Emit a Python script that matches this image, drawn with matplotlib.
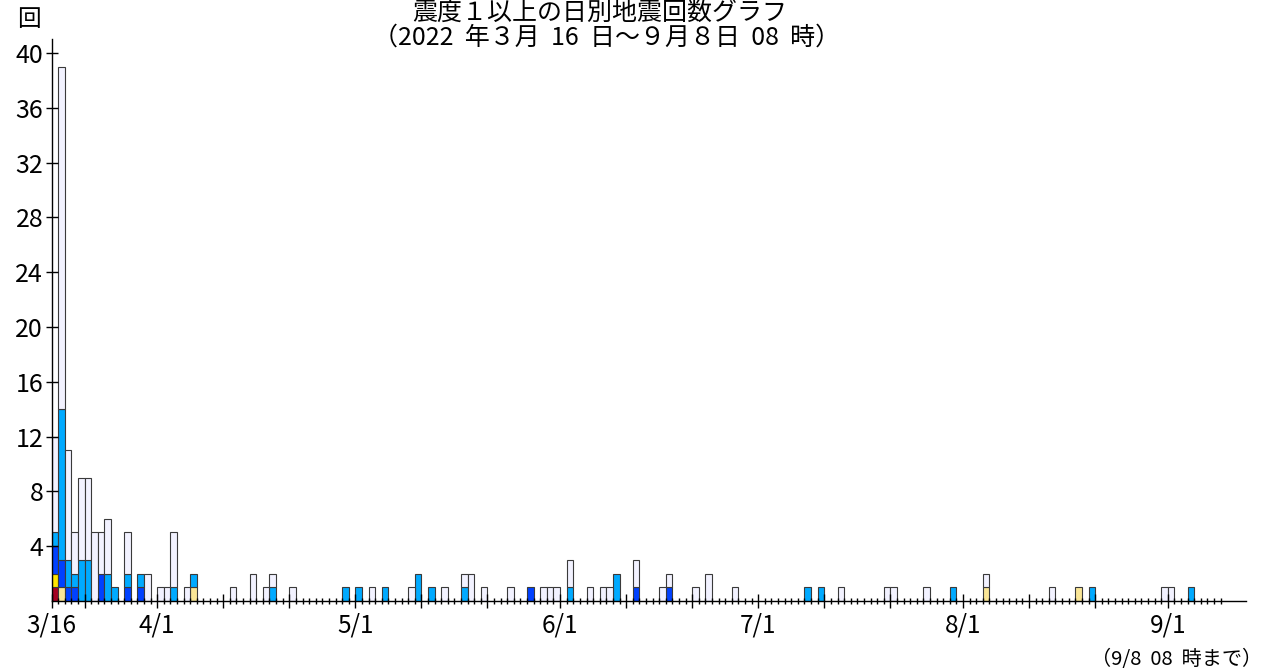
import numpy as np
import pandas as pd
import matplotlib
matplotlib.use("Agg")
import matplotlib.pyplot as plt

plt.rcParams['font.family'] = ['Noto Sans CJK JP', 'DejaVu Sans']

# 日別の震度別回数（月-日: 回数）
shindo6u = {"03-16": 1}
shindo5l = {"03-16": 1}
shindo4 = {"03-17": 1, "04-06": 1, "08-04": 1, "08-18": 1}
shindo3 = {"03-16": 2, "03-17": 2, "03-18": 1, "03-19": 1, "03-23": 2, "03-27": 1,
           "03-29": 1, "05-27": 1, "06-12": 1, "06-17": 1}
shindo2 = {"03-16": 1, "03-17": 11, "03-18": 2, "03-19": 1, "03-20": 3, "03-21": 3,
           "03-24": 2, "03-25": 1, "03-27": 1, "03-29": 1, "04-03": 1, "04-06": 1,
           "04-18": 1, "04-29": 1, "05-01": 1, "05-05": 1, "05-10": 2, "05-12": 1,
           "05-17": 1, "06-02": 1, "06-09": 2, "07-08": 1, "07-10": 1, "07-30": 1,
           "08-20": 1, "09-04": 1}
shindo1 = {"03-16": 7, "03-17": 25, "03-18": 8, "03-19": 3, "03-20": 6, "03-21": 6,
           "03-22": 5, "03-23": 3, "03-24": 4, "03-27": 3, "03-30": 2, "04-01": 1,
           "04-02": 1, "04-03": 4, "04-05": 1, "04-12": 1, "04-15": 2, "04-17": 1,
           "04-18": 1, "04-21": 1, "05-03": 1, "05-09": 1, "05-14": 1, "05-17": 1,
           "05-18": 2, "05-20": 1, "05-24": 1, "05-29": 1, "05-30": 1, "05-31": 1,
           "06-02": 2, "06-05": 1, "06-07": 1, "06-08": 1, "06-12": 2, "06-16": 1,
           "06-17": 1, "06-21": 1, "06-23": 2, "06-27": 1, "07-13": 1, "07-20": 1,
           "07-21": 1, "07-26": 1, "08-04": 1, "08-14": 1, "08-31": 1, "09-01": 1}

# 下から積む順
layers = [shindo6u, shindo5l, shindo4, shindo3, shindo2, shindo1]
colors = ['#A50021', '#FFE600', '#FAE696', '#0041FF', '#00AAFF', '#F2F2FF']

start = pd.Timestamp("2022-03-16")
days = pd.date_range(start, "2022-09-08", freq="D")
yticks = [4, 8, 12, 16, 20, 24, 28, 32, 36, 40]

fig = plt.figure(figsize=(12.69, 6.72), dpi=100)
ax = fig.add_axes([0.0406, 0.1057, 0.9413, 0.8359])

x = np.arange(len(days))
bottom = np.zeros(len(days))
for layer, c in zip(layers, colors):
    vals = np.array([layer.get(d.strftime("%m-%d"), 0) for d in days], dtype=float)
    mask = vals > 0
    ax.bar(x[mask], vals[mask], width=1.0, bottom=bottom[mask], align='edge',
           color=c, edgecolor='#3a3a3a', linewidth=0.8, zorder=1)
    bottom += vals

ax.set_xlim(0, 180.85)
ax.set_ylim(0, 41)

for s in ['top', 'right']:
    ax.spines[s].set_visible(False)
for s in ['left', 'bottom']:
    ax.spines[s].set_linewidth(1.0)
    ax.spines[s].set_color('black')

# 1日・11日・21日に長い目盛、毎日に短い目盛
bounds = pd.date_range(start, days[-1] + pd.Timedelta(days=1), freq="D")
major = [i for i, d in enumerate(bounds) if d.day in (1, 11, 21) or i == 0]
labels = []
for i in major:
    d = bounds[i]
    if i == 0:
        labels.append("3/16")
    elif d.day == 1:
        labels.append(f"{d.month}/1")
    else:
        labels.append("")
ax.set_xticks(major)
ax.set_xticklabels(labels, fontsize=17.5)
ax.set_xticks(np.arange(len(bounds)), minor=True)
ax.tick_params(axis='x', which='major', direction='inout', length=10, width=1.0, pad=3)
ax.tick_params(axis='x', which='minor', direction='inout', length=4.5, width=1.0)

ax.set_yticks(yticks)
ax.set_yticklabels([str(v) for v in yticks], fontsize=18)
ax.tick_params(axis='y', which='major', direction='inout', length=8, width=1.0, pad=2)

fig.text(600 / 1269, 1 - 13 / 672, "震度１以上の日別地震回数グラフ", ha='center', va='center', fontsize=18)
fig.text(607 / 1269, 1 - 38 / 672, "（2022  年３月  16  日～９月８日  08  時）",
         ha='center', va='center', fontsize=18)
fig.text(29 / 1269, 1 - 20 / 672, "回", ha='center', va='center', fontsize=17)
fig.text(1262 / 1269, 1 - 660 / 672, "（9/8  08  時まで）", ha='right', va='center', fontsize=14.5)

fig.savefig("out.png", dpi=100)
